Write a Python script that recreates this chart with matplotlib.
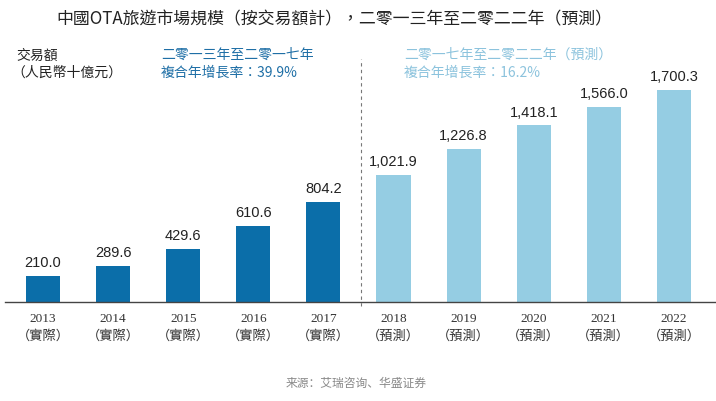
import matplotlib
matplotlib.use("Agg")
import matplotlib.pyplot as plt

# data
years = ["2013", "2014", "2015", "2016", "2017", "2018", "2019", "2020", "2021", "2022"]
status = ["（實際）"] * 5 + ["（預測）"] * 5
values = [210.0, 289.6, 429.6, 610.6, 804.2, 1021.9, 1226.8, 1418.1, 1566.0, 1700.3]
labels = ["210.0", "289.6", "429.6", "610.6", "804.2",
          "1,021.9", "1,226.8", "1,418.1", "1,566.0", "1,700.3"]

dark = "#0b6ea9"
light = "#95cde3"
cjk = ["Noto Sans CJK TC", "DejaVu Sans"]
serif = ["Liberation Serif", "Noto Sans CJK TC"]
sans = ["Liberation Sans", "Noto Sans CJK TC"]

W, H = 716, 402
fig = plt.figure(figsize=(W / 100, H / 100), dpi=100)
base = 303  # baseline pixel from top
top = 60
ax = fig.add_axes([0, (H - base) / H, 1, (base - top) / H])
px = 70.1  # pixels per bar slot
x0 = 43
ax.set_xlim(-x0 / px, (W - x0) / px)
ymax = (base - top) / 0.1245
ax.set_ylim(0, ymax)
ax.axis("off")

xs = list(range(len(values)))
colors = [dark] * 5 + [light] * 5
ax.bar(xs, values, width=34 / px, color=colors)
for x, v, t in zip(xs, values, labels):
    ax.text(x, v + 55, t, ha="center", va="bottom", fontsize=10.5,
            family=sans, color="#222222")

# baseline
ax.axhline(0, xmin=5 / W, xmax=1, color="#444444", lw=1.0, clip_on=False)
# dashed divider
xd = 4.54
ax.plot([xd, xd], [-4 / 0.1245, ymax], ls=(0, (3, 3)), color="#777777",
        lw=0.8, clip_on=False)

# tick labels
for x, y, s in zip(xs, years, status):
    ax.text(x, -16 / 0.1245, y, ha="center", va="center", fontsize=9.5,
            family=serif, color="#333333", clip_on=False)
    ax.text(x, -33 / 0.1245, s, ha="center", va="center", fontsize=9.5,
            family=serif, color="#333333", clip_on=False)

# titles and notes
fig.text(334 / W, 1 - 19 / H, "中國OTA旅遊市場規模（按交易額計），二零一三年至二零二二年（預測）",
         ha="center", va="center", fontsize=12.2, family=cjk, color="#222222")
fig.text(16 / W, 1 - 56 / H, "交易額", ha="left", va="center",
         fontsize=10, family=cjk, color="#222222")
fig.text(11 / W, 1 - 73 / H, "（人民幣十億元）", ha="left", va="center",
         fontsize=10, family=cjk, color="#222222")
fig.text(161 / W, 1 - 55 / H, "二零一三年至二零一七年", ha="left", va="center",
         fontsize=10, family=cjk, color="#1f6fa6")
fig.text(161 / W, 1 - 73 / H, "複合年增長率：39.9%", ha="left", va="center",
         fontsize=10, family=cjk, color="#1f6fa6")
fig.text(404 / W, 1 - 55 / H, "二零一七年至二零二二年（預測）", ha="left", va="center",
         fontsize=10, family=cjk, color="#8cc3dd")
fig.text(404 / W, 1 - 73 / H, "複合年增長率：16.2%", ha="left", va="center",
         fontsize=10, family=cjk, color="#8cc3dd")
fig.text(356 / W, 1 - 383 / H, "来源：艾瑞咨询、华盛证券", ha="center", va="center",
         fontsize=8.5, family=["Noto Sans CJK SC", "DejaVu Sans"], color="#888888")

fig.savefig("out.png", dpi=100)
